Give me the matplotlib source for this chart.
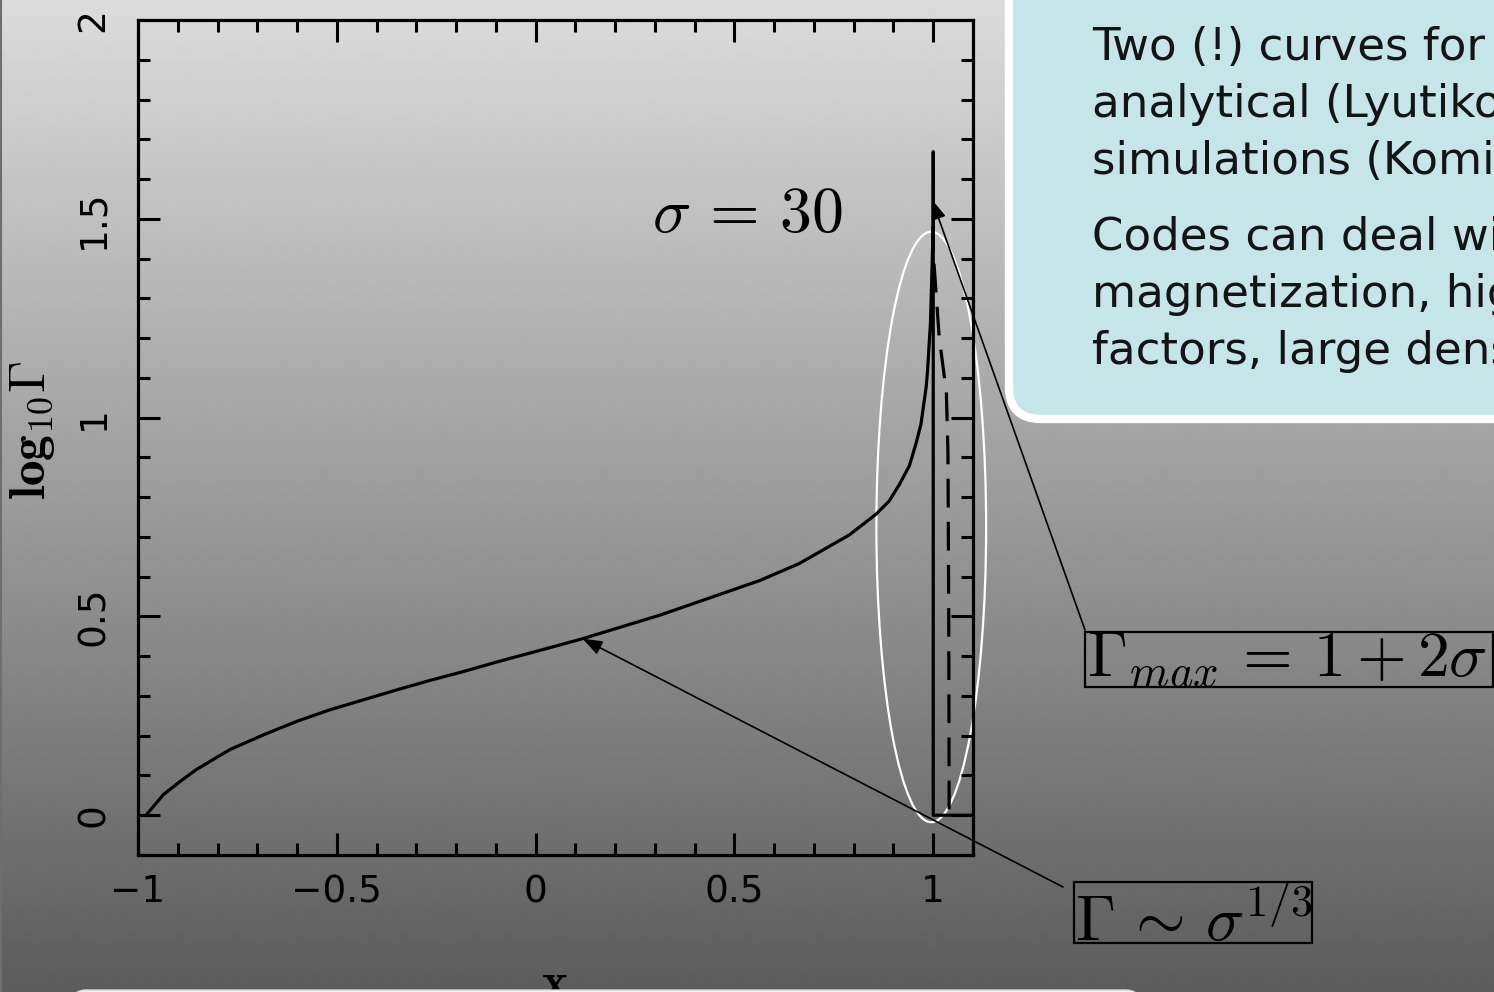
import numpy as np
import matplotlib.pyplot as plt
from matplotlib.patches import Ellipse, FancyBboxPatch, Rectangle
from matplotlib.ticker import MultipleLocator

plt.rcParams['mathtext.fontset'] = 'cm'

W, H = 1494, 992

# log10(Gamma) across the rarefaction, sigma = 30
x_sol = [-0.98, -0.957, -0.936, -0.894, -0.853, -0.769, -0.685, -0.601, -0.518,
         -0.434, -0.350, -0.266, -0.183, -0.099, -0.040, 0.06, 0.118, 0.312,
         0.563, 0.663, 0.789, 0.856, 0.889, 0.915, 0.940, 0.957, 0.969, 0.982,
         0.986, 0.990, 0.993, 0.997, 1.0, 1.0]
lg_sol = [0.0, 0.027, 0.052, 0.085, 0.115, 0.165, 0.202, 0.236, 0.265,
          0.290, 0.315, 0.339, 0.361, 0.385, 0.401, 0.428, 0.444, 0.503,
          0.590, 0.633, 0.705, 0.757, 0.790, 0.832, 0.879, 0.936, 0.983, 1.075,
          1.121, 1.190, 1.237, 1.376, 1.490, 1.668]

# front at x = 1 and the medium ahead of it
x_front = [1.0, 1.1]
lg_front = [0.0, 0.0]

# second curve near the front
x_dash = [1.002, 1.015, 1.033, 1.037, 1.039, 1.040]
lg_dash = [1.387, 1.202, 1.064, 0.913, 0.500, 0.012]

x_ticks = [-1, -0.5, 0, 0.5, 1]
x_ticklabels = ['\u22121', '\u22120.5', '0', '0.5', '1']
y_ticks = [0, 0.5, 1, 1.5, 2]
y_ticklabels = ['0', '0.5', '1', '1.5', '2']

note_lines = ['Two (!) curves for the', 'analytical (Lyutikov)', 'simulations (Komissarov)',
              'Codes can deal with', 'magnetization, high Lorentz', 'factors, large density']
note_baselines = [60, 117, 174, 250, 307, 364]

fig = plt.figure(figsize=(W / 100, H / 100), dpi=100)

# slide background
bg = fig.add_axes([0, 0, 1, 1], zorder=0)
shade = np.linspace(220, 92, H)[:, None] * np.ones((1, 4))
bg.imshow(shade, cmap='gray', vmin=0, vmax=255, aspect='auto',
          extent=[0, W, H, 0], interpolation='bilinear')
bg.plot([1, 1], [0, H], color='#6e6e6e', lw=1.5)
bg.set_xlim(0, W)
bg.set_ylim(H, 0)
bg.axis('off')

# plot
ax = fig.add_axes([138 / W, 1 - 855 / H, (973 - 138) / W, (855 - 20) / H], zorder=1)
ax.patch.set_alpha(0)
ax.plot(x_sol + x_front, lg_sol + lg_front, color='black', lw=2.3,
        solid_joinstyle='round')
ax.plot(x_dash, lg_dash, color='black', lw=2.3, dashes=(9, 4.5))
ax.add_patch(Ellipse((0.995, 0.725), 0.276, 1.485, fill=False, ec='white',
                     lw=1.6, clip_on=False))

ax.set_xlim(-1, 1.1)
ax.set_ylim(-0.1, 2)
ax.set_xticks(x_ticks)
ax.set_xticklabels(x_ticklabels)
ax.set_yticks(y_ticks)
ax.set_yticklabels(y_ticklabels, rotation=90, va='center')
ax.xaxis.set_minor_locator(MultipleLocator(0.1))
ax.yaxis.set_minor_locator(MultipleLocator(0.1))
ax.tick_params(which='both', direction='in', top=True, right=True, width=2.2,
               color='black')
ax.tick_params(which='major', length=15.5)
ax.tick_params(which='minor', length=8.4)
ax.tick_params(axis='x', labelsize=27, pad=14)
ax.tick_params(axis='y', labelsize=27, pad=19)
for s in ax.spines.values():
    s.set_linewidth(2.3)

fig.text(32 / W, 1 - 430 / H, r'$\mathbf{log}_{\mathbf{10}}\mathbf{\Gamma}$',
         rotation=90, ha='center', va='center', fontsize=37)
fig.text(555 / W, 1 - 998 / H, r'$\mathbf{x}$', ha='center', va='baseline',
         fontsize=36)

# overlay in pixel units for labels and boxes
ov = fig.add_axes([0, 0, 1, 1], zorder=5)
ov.set_xlim(0, W)
ov.set_ylim(H, 0)
ov.axis('off')
ov.patch.set_alpha(0)

ov.text(652, 232, r'$\sigma\,=\,30$', fontsize=46, ha='left', va='baseline')

ov.text(1087, 677, r'$\Gamma_{max}\,=\,1+2\sigma$', fontsize=46,
        ha='left', va='baseline')
ov.add_patch(Rectangle((1085, 632), 408, 55, fill=False, ec='black', lw=1.6))
ov.text(1075, 941, r'$\Gamma\,\sim\,\sigma^{1/3}$', fontsize=46,
        ha='left', va='baseline')
ov.add_patch(Rectangle((1074, 882), 238, 61, fill=False, ec='black', lw=1.6))

arrow = dict(arrowstyle='-|>,head_length=0.6,head_width=0.22', color='black',
             lw=1.2, shrinkA=0, shrinkB=0, mutation_scale=20)
ax.annotate('', xy=(0.997, 1.548), xycoords='data', xytext=(1085, 630),
            textcoords=ov.transData, arrowprops=arrow, annotation_clip=False)
ax.annotate('', xy=(0.118, 0.444), xycoords='data', xytext=(1063, 887),
            textcoords=ov.transData, arrowprops=arrow, annotation_clip=False)

# callout box, top right
ov.add_patch(FancyBboxPatch((1012, -80), 600, 495,
                            boxstyle='round,pad=0,rounding_size=32',
                            fc='black', ec='none', alpha=0.12))
ov.add_patch(FancyBboxPatch((1009, -80), 600, 499,
                            boxstyle='round,pad=0,rounding_size=32',
                            fc='#c5e5e8', ec='white', lw=6))
for line, yb in zip(note_lines, note_baselines):
    ov.text(1092, yb, line, fontsize=32.5, family='DejaVu Sans', color='#141414',
            ha='left', va='baseline')

# text panel along the bottom
ov.add_patch(FancyBboxPatch((72, 990), 1068, 200,
                            boxstyle='round,pad=0,rounding_size=14',
                            fc='#f3f3f3', ec='#d8d8d8', lw=1))

fig.savefig('out.png', dpi=100)
